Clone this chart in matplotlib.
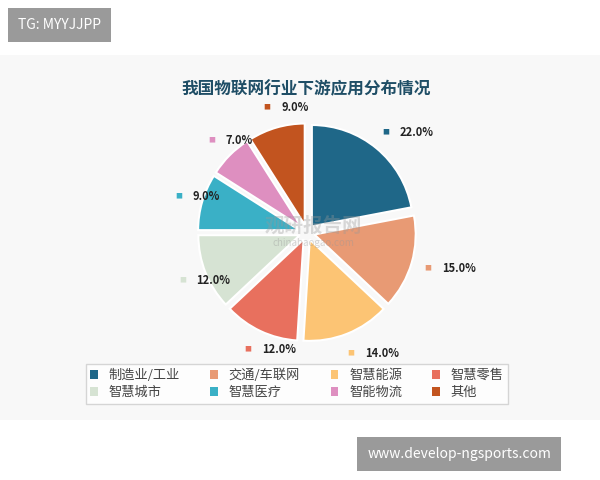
import numpy as np
import matplotlib.pyplot as plt
from matplotlib.patches import Patch

plt.rcParams['font.family'] = ['Noto Sans CJK SC', 'DejaVu Sans']

title = '我国物联网行业下游应用分布情况'
categories = ['制造业/工业', '交通/车联网', '智慧能源', '智慧零售',
              '智慧城市', '智慧医疗', '智能物流', '其他']
values = [22.0, 15.0, 14.0, 12.0, 12.0, 9.0, 7.0, 9.0]
colors = ['#1f6788', '#e89a74', '#fcc474', '#e8705e',
          '#d6e3d3', '#3ab0c6', '#de8fc0', '#c2541f']

fig = plt.figure(figsize=(6, 4.8), dpi=100)
fig.patch.set_facecolor('white')

# light panel behind the chart
bg = fig.add_axes([0.0, 0.125, 1.0, 0.76])
bg.set_facecolor('#f8f8f8')
bg.set_xticks([]); bg.set_yticks([])
for s in bg.spines.values():
    s.set_visible(False)

fig.text(0.51, 0.815, title, ha='center', va='center', fontsize=12,
         fontweight='bold', color='#1f4e66')

ax = fig.add_axes([0.295, 0.245, 0.433, 0.542])
wedges, _ = ax.pie(values, colors=colors, startangle=90, counterclock=False,
                   radius=0.78, explode=[0.06] * len(values),
                   wedgeprops=dict(edgecolor='white', linewidth=1.5))
ax.set_xlim(-1, 1); ax.set_ylim(-1, 1)
ax.set_aspect('equal')

# faint watermark in the middle
ax.text(0.05, 0.05, '观研报告网', fontsize=14, fontweight='bold',
        color='#999999', alpha=0.35, ha='center', va='center')
ax.text(0.05, -0.08, 'chinabaogao.com', fontsize=7, color='#999999',
        alpha=0.4, ha='center', va='center')

for w, v, c in zip(wedges, values, colors):
    ang = np.deg2rad((w.theta1 + w.theta2) / 2)
    x, y = 1.0 * np.cos(ang), 1.0 * np.sin(ang)
    ax.text(x, y, '■', color=c, fontsize=5, ha='right', va='center')
    ax.text(x + 0.08, y, f'{v:.1f}%', fontsize=8, fontweight='bold',
            color='#222222', ha='left', va='center')

# legend fills row by row
order = [0, 4, 1, 5, 2, 6, 3, 7]
handles = [Patch(facecolor=colors[i], edgecolor='none') for i in order]
labels = [categories[i] for i in order]
leg = fig.legend(handles, labels, ncol=4, loc='center',
                 bbox_to_anchor=(0.495, 0.2), bbox_transform=fig.transFigure,
                 fontsize=9.5, frameon=True, fancybox=False, handlelength=0.6,
                 handleheight=0.6, columnspacing=2.3, labelcolor='#444444',
                 borderpad=0.35, labelspacing=0.3)
leg.get_frame().set_edgecolor('#cccccc')

fig.text(0.03, 0.948, 'TG: MYYJJPP', fontsize=10, color='white', va='center',
         bbox=dict(facecolor='#9a9a9a', edgecolor='none', pad=7))
fig.text(0.612, 0.054, 'www.develop-ngsports.com', fontsize=10, color='white',
         va='center', bbox=dict(facecolor='#9a9a9a', edgecolor='none', pad=7))

fig.savefig('out.png', dpi=100)
